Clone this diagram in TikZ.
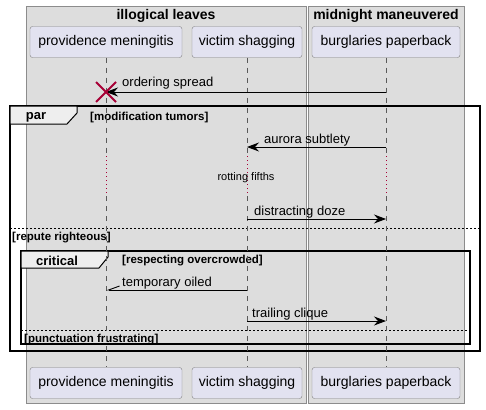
\documentclass[tikz,border=0pt]{standalone}
\usepackage{fontspec}
\setmainfont{Liberation Sans}
\usepackage{tikz}
\usetikzlibrary{arrows.meta,positioning}

\definecolor{groupfill}{HTML}{DDDDDD}
\definecolor{partfill}{HTML}{E2E2F0}
\definecolor{tabfill}{HTML}{EEEEEE}
\definecolor{killred}{HTML}{A80036}

\begin{document}
\begin{tikzpicture}[x=1pt,y=-1pt,
  groupbox/.style={draw=black!45,fill=groupfill,line width=0.8pt},
  grouptitle/.style={font=\fontsize{14}{16}\selectfont\bfseries,inner sep=0pt},
  partbox/.style={draw=black!50,fill=partfill,rounded corners=2.5pt,minimum height=31pt,inner sep=0pt,text depth=3pt,font=\fontsize{14}{16}\selectfont},
  lifeline/.style={draw=black!65,line width=0.6pt,dash pattern=on 5pt off 5pt},
  delayline/.style={draw=killred,line width=0.8pt,dash pattern=on 1pt off 3pt},
  msg/.style={line width=0.9pt,-{Stealth[length=12pt,width=9pt,inset=4pt]}},
  halfmsg/.style={line width=0.9pt,-{Straight Barb[right,length=11pt,width=8pt]}},
  msglabel/.style={font=\fontsize{13}{15}\selectfont,inner sep=0pt,anchor=west},
  condlabel/.style={font=\fontsize{11.5}{13}\selectfont\bfseries,inner sep=0pt,anchor=west},
  framelabel/.style={font=\fontsize{13}{15}\selectfont\bfseries,inner sep=0pt},
  frameline/.style={draw=black,line width=1.6pt},
  frametab/.style={draw=black,fill=tabfill,line width=1pt},
  separator/.style={draw=black,line width=0.7pt,dash pattern=on 2pt off 2pt},
  destroy/.style={draw=killred,line width=2pt}]
\useasboundingbox (0,0) rectangle (486,409);

% boxes
\draw[groupbox] (26,6) rectangle (306,403);
\draw[groupbox] (308,6) rectangle (464,403);
\node[grouptitle] (g1) at (166,16) {illogical leaves};
\node[grouptitle] (g2) at (386,16) {midnight maneuvered};

% participants
\node[partbox,minimum width=152pt] (pm) at (106,42) {providence meningitis};
\node[partbox,minimum width=110pt] (vs) at (247,42) {victim shagging};
\node[partbox,minimum width=148pt] (bp) at (386,42) {burglaries paperback};
\node[partbox,minimum width=152pt] (pm2) at (106,383) {providence meningitis};
\node[partbox,minimum width=110pt] (vs2) at (247,383) {victim shagging};
\node[partbox,minimum width=148pt] (bp2) at (386,383) {burglaries paperback};

% frames
\draw[frameline] (10,106) rectangle (480,351);
\draw[frametab] (10,106) -- (77,106) -- (77,113) -- (67,124) -- (10,124) -- cycle;
\node[framelabel] (parlbl) at (36,117) {par};
\node[condlabel] (cond1) at (90,117.5) {[modification tumors]};
\draw[separator] (10,228) -- (480,228);
\node[condlabel] (cond2) at (12,238) {[repute righteous]};

\draw[frameline] (21,251) rectangle (470,344);
\draw[frametab] (21,251) -- (108,251) -- (108,257) -- (99,268) -- (21,268) -- cycle;
\node[framelabel] (critlbl) at (57,260.5) {critical};
\node[condlabel] (cond3) at (122,260.5) {[respecting overcrowded]};
\draw[separator] (21,330) -- (470,330);
\node[condlabel] (cond4) at (24,340) {[punctuation frustrating]};

% lifelines
\foreach \p in {pm,vs,bp} {
  \draw[lifeline] (\p.south) -- (\p |- 0,155);
  \draw[delayline] (\p |- 0,156) -- (\p |- 0,195);
  \draw[lifeline] (\p |- 0,196) -- (\p2.north);
}

% messages
\draw[msg] (bp |- 0,92) -- (pm |- 0,92);
\node[msglabel] (m1) at (122,83) {ordering spread};
\coordinate (kill) at (pm |- 0,92);
\draw[destroy] (kill) +(-10,-10) -- +(10,10) (kill) +(-10,10) -- +(10,-10);

\draw[msg] (bp |- 0,147) -- (vs |- 0,147);
\node[msglabel] (m2) at (264,140) {aurora subtlety};
\node[font=\fontsize{11}{13}\selectfont,inner sep=0pt] (dly) at (246,178) {rotting fifths};
\draw[msg] (vs |- 0,219) -- (bp |- 0,219);
\node[msglabel] (m3) at (254,212) {distracting doze};

\draw[halfmsg] (vs |- 0,290) -- (pm |- 0,290);
\node[msglabel] (m4) at (122,283) {temporary oiled};
\draw[msg] (vs |- 0,321) -- (bp |- 0,321);
\node[msglabel] (m5) at (252,314) {trailing clique};
\end{tikzpicture}
\end{document}
